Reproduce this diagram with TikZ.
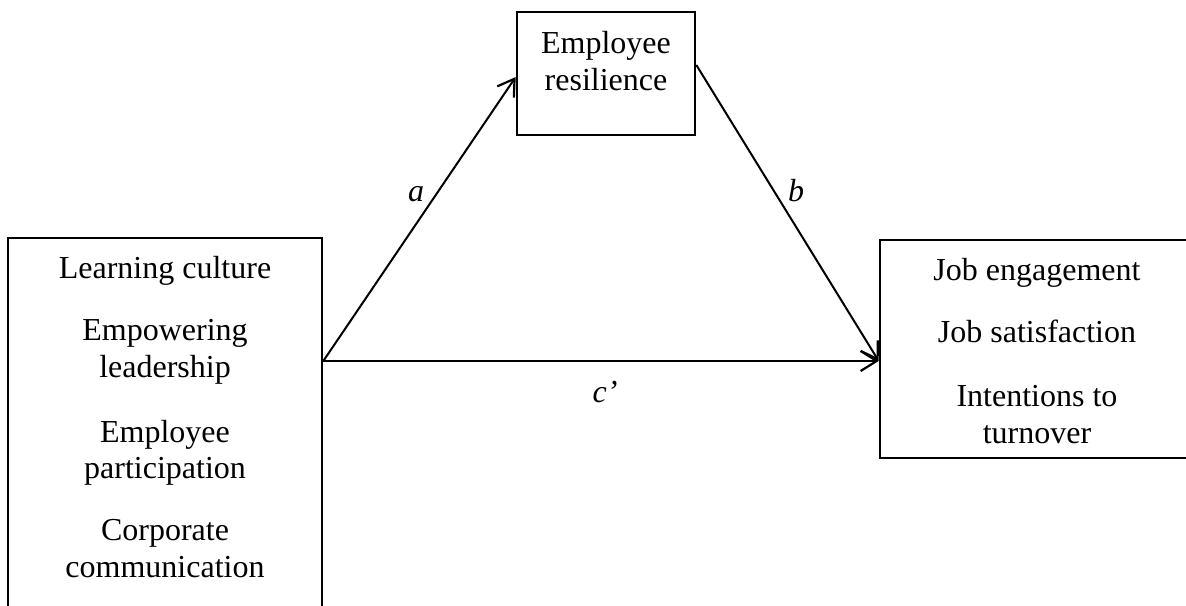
\documentclass[tikz,border=0pt]{standalone}
\usepackage{fontspec}
\setmainfont{Liberation Serif}
\usetikzlibrary{arrows.meta}
\begin{document}
\begin{tikzpicture}[x=0.5pt,y=-0.5pt,
  box/.style={draw=black,line width=1.3pt,rectangle,inner sep=0pt},
  txt/.style={anchor=base,inner sep=0pt,font=\fontsize{16}{18.5}\selectfont},
  lbl/.style={anchor=base,inner sep=0pt,font=\fontsize{16}{18.5}\selectfont\itshape},
  path/.style={line width=1pt,-{Straight Barb[length=8pt,width=10pt,line width=1.1pt]}}
]
\useasboundingbox (0,0) rectangle (1186,605);
\clip (0,0) rectangle (1186,605);
% boxes
\node[box,minimum width=157pt,minimum height=201pt] (L) at (165,439) {};
\node[box,minimum width=89pt,minimum height=61.5pt] (M) at (606,73.5) {};
\node[box,minimum width=160pt,minimum height=109pt] (R) at (1040,349) {};
% left box text
\node[txt] (l1) at (165,278) {Learning culture};
\node[txt] (l2) at (165,340) {Empowering};
\node[txt] (l3) at (165,377) {leadership};
\node[txt] (l4) at (165,442) {Employee};
\node[txt] (l5) at (165,478) {participation};
\node[txt] (l6) at (165,540) {Corporate};
\node[txt] (l7) at (165,577) {communication};
% mediator text
\node[txt] (m1) at (606,53) {Employee};
\node[txt] (m2) at (606,90) {resilience};
% right box text
\node[txt] (r1) at (1037,280) {Job engagement};
\node[txt] (r2) at (1037,342) {Job satisfaction};
\node[txt] (r3) at (1037,406) {Intentions to};
\node[txt] (r4) at (1037,443) {turnover};
% connector end points on the box borders
\coordinate (Lout) at (L.east |- 0,361);
\coordinate (Min) at (M.west |- 0,77);
\coordinate (Mout) at (M.east |- 0,65);
\coordinate (Rin) at (R.west |- 0,361);
% connectors
\draw[path] (Lout) -- (Min);
\draw[path] (Mout) -- (Rin);
\draw[path] (Lout) -- (Rin);
% labels
\node[lbl] (la) at (416,201) {a};
\node[lbl] (lb) at (796,201) {b};
\node[lbl] (lc) at (605,402) {c’};
\end{tikzpicture}
\end{document}
